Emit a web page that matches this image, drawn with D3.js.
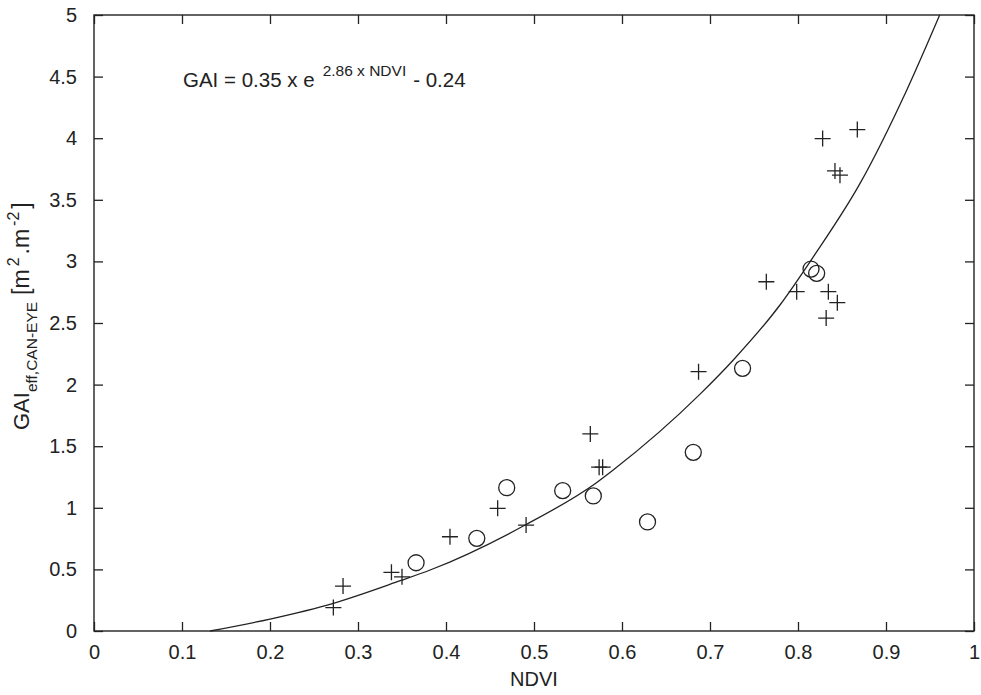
<!DOCTYPE html>
<html><head><meta charset="utf-8">
<script src="https://cdn.jsdelivr.net/npm/d3@7"></script>
<style>body{margin:0;background:#fff}svg{display:block}text{font-family:"Liberation Sans",Arial,sans-serif;fill:#222}</style>
</head><body>
<svg id="c" width="981" height="695"></svg>
<script>
// Data
const plusNDVI = [0.272,0.283,0.338,0.350,0.4045,0.4587,0.491,0.564,0.574,0.578,0.687,0.764,0.7985,0.828,0.8674,0.842,0.8477,0.8345,0.8447,0.832];
const plusGAI  = [0.19,0.365,0.476,0.44,0.765,0.996,0.86,1.60,1.33,1.33,2.105,2.835,2.754,3.997,4.07,3.734,3.70,2.754,2.665,2.54];
const circNDVI = [0.366,0.435,0.469,0.5326,0.5674,0.629,0.681,0.737,0.8148,0.8212];
const circGAI  = [0.554,0.752,1.163,1.139,1.096,0.885,1.45,2.132,2.938,2.903];
const fitNDVI  = [0.132,0.2,0.272,0.348,0.382,0.49,0.571,0.59,0.689,0.7265,0.7795,0.8175,0.8705,0.9235,0.961];
const fitGAI   = [0,0.097,0.225,0.408,0.495,0.86,1.204,1.307,1.925,2.2,2.646,3.038,3.633,4.39,5.0];
const xTicks = [0,0.1,0.2,0.3,0.4,0.5,0.6,0.7,0.8,0.9,1];
const yTicks = [0,0.5,1,1.5,2,2.5,3,3.5,4,4.5,5];

const L=94,R=974,T=15,B=631;
const svg=d3.select("#c");
const x=d3.scaleLinear().domain([0,1]).range([L,R]);
const y=d3.scaleLinear().domain([0,5]).range([B,T]);
const fmt=d=>String(d);
const col="#222";

// Axes with inward ticks
const ax=svg.append("g").attr("transform",`translate(0,${B})`).call(d3.axisBottom(x).tickValues(xTicks).tickFormat(fmt).tickSizeInner(-9).tickSizeOuter(0).tickPadding(14));
const ay=svg.append("g").attr("transform",`translate(${L},0)`).call(d3.axisLeft(y).tickValues(yTicks).tickFormat(fmt).tickSizeInner(-9).tickSizeOuter(0).tickPadding(17));
const at=svg.append("g").attr("transform",`translate(0,${T})`).call(d3.axisTop(x).tickValues(xTicks).tickFormat("").tickSizeInner(-9).tickSizeOuter(0));
const ar=svg.append("g").attr("transform",`translate(${R},0)`).call(d3.axisRight(y).tickValues(yTicks).tickFormat("").tickSizeInner(-9).tickSizeOuter(0));
[ax,ay,at,ar].forEach(g=>{
  g.select(".domain").remove();
  g.selectAll(".tick line").attr("stroke",col).attr("stroke-width",1.3);
  g.selectAll(".tick text").attr("font-size",20).attr("fill",col).style("font-family","'Liberation Sans',Arial,sans-serif");
});
svg.append("rect").attr("x",L).attr("y",T).attr("width",R-L).attr("height",B-T).attr("fill","none").attr("stroke",col).attr("stroke-width",1.4);

// Fit curve
const fit=fitNDVI.map((d,i)=>[d,fitGAI[i]]);
svg.append("path").datum(fit).attr("fill","none").attr("stroke",col).attr("stroke-width",1.3)
  .attr("d",d3.line().x(d=>x(d[0])).y(d=>y(d[1])).curve(d3.curveMonotoneX));

// Plus markers
const s=8;
const plus=plusNDVI.map((d,i)=>[d,plusGAI[i]]);
svg.append("g").selectAll("path").data(plus).join("path")
  .attr("d",d=>`M${x(d[0])-s},${y(d[1])}H${x(d[0])+s}M${x(d[0])},${y(d[1])-s}V${y(d[1])+s}`)
  .attr("stroke",col).attr("stroke-width",1.3).attr("fill","none");
// Circle markers
const circ=circNDVI.map((d,i)=>[d,circGAI[i]]);
svg.append("g").selectAll("circle").data(circ).join("circle")
  .attr("cx",d=>x(d[0])).attr("cy",d=>y(d[1])).attr("r",8)
  .attr("stroke",col).attr("stroke-width",1.3).attr("fill","none");

// Equation
const eq=svg.append("text").attr("x",183).attr("y",87).attr("font-size",20.5);
eq.append("tspan").text("GAI = 0.35 x e");
eq.append("tspan").attr("font-size",15.5).attr("dx",8).attr("dy",-11).text("2.86 x NDVI");
eq.append("tspan").attr("dx",7).attr("dy",11).text("- 0.24");

// X label
svg.append("text").attr("x",534).attr("y",686).attr("text-anchor","middle").attr("font-size",20).text("NDVI");

// Y label
const yl=svg.append("text").attr("transform","translate(29,430) rotate(-90)").attr("text-anchor","start").attr("font-size",22);
yl.append("tspan").text("GAI");
yl.append("tspan").attr("font-size",15.5).attr("dy",8).text("eff,CAN-EYE");
yl.append("tspan").attr("font-size",23).attr("dx",7).attr("dy",-8).text("[m");
yl.append("tspan").attr("font-size",16).attr("dx",3).attr("dy",-10).text("2");
yl.append("tspan").attr("font-size",23).attr("dx",3).attr("dy",10).text(".m");
yl.append("tspan").attr("font-size",16).attr("dx",3).attr("dy",-10).text("-2");
yl.append("tspan").attr("font-size",23).attr("dx",3).attr("dy",10).text("]");
</script>
</body></html>
